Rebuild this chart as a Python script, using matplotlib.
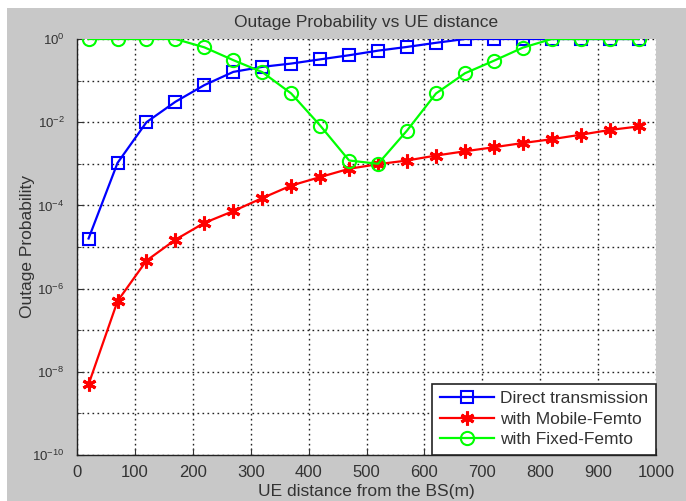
import math

import matplotlib
matplotlib.use("Agg")
import matplotlib.pyplot as plt
import matplotlib.ticker as mticker
from matplotlib.patches import Rectangle

plt.rcParams["font.family"] = ["Liberation Sans", "DejaVu Sans"]
plt.rcParams["mathtext.fontset"] = "custom"
plt.rcParams["mathtext.rm"] = "Liberation Sans"
plt.rcParams["mathtext.it"] = "Liberation Sans"

# UE distance from the BS (m)
distance = [20, 70, 120, 170, 220, 270, 320, 370, 420, 470,
            520, 570, 620, 670, 720, 770, 820, 870, 920, 970]

direct = [1.6e-5, 1.05e-3, 1.0e-2, 0.031, 0.078, 0.162, 0.214, 0.257,
          0.324, 0.407, 0.525, 0.645, 0.81, 1, 1, 1, 1, 1, 1, 1]
mobile_femto = [5e-9, 5e-7, 4.7e-6, 1.5e-5, 3.8e-5, 7.3e-5, 1.5e-4, 3.0e-4,
                4.8e-4, 7.6e-4, 9.8e-4, 1.2e-3, 1.58e-3, 2.0e-3, 2.5e-3,
                3.16e-3, 3.9e-3, 5.0e-3, 6.5e-3, 7.9e-3]
fixed_femto = [1, 1, 1, 1, 0.63, 0.31, 0.16, 0.049, 0.0083, 1.2e-3,
               1.0e-3, 6.3e-3, 0.049, 0.15, 0.30, 0.62, 1, 1, 1, 1]

TEXT = "#333333"
PANEL = "#c8c8c8"
ASTERISK = (6, 2, 0)

fig = plt.figure(figsize=(6.86, 5.01), dpi=100)
fig.patch.set_facecolor("white")
# grey figure panel with a thin white border on the top and left
fig.patches.append(Rectangle((7 / 686, 0), 1, 493 / 501, transform=fig.transFigure,
                             facecolor=PANEL, edgecolor="none", zorder=-10))

ax = fig.add_axes([77 / 686, 46 / 501, 579 / 686, 416 / 501])
ax.set_facecolor("white")

ax.plot(distance, direct, color="#0000ff", lw=1.6, marker="s", ms=8,
        mfc="none", mec="#0000ff", mew=1.5, label="Direct transmission")
ax.plot(distance, mobile_femto, color="#ff0000", lw=1.6, marker=ASTERISK, ms=10,
        mfc="#ff0000", mec="#ff0000", mew=2.2, label="with Mobile-Femto")
ax.plot(distance, fixed_femto, color="#00ff00", lw=1.6, marker="o", ms=9.5,
        mfc="none", mec="#00ff00", mew=1.5, label="with Fixed-Femto")

ax.set_yscale("log")
ax.set_xlim(0, 1000)
ax.set_ylim(1e-10, 1)
ax.set_xticks(range(0, 1001, 100))
ax.yaxis.set_major_locator(mticker.FixedLocator([10.0 ** k for k in range(-10, 1, 2)]))
ax.yaxis.set_minor_locator(mticker.FixedLocator([10.0 ** k for k in range(-9, 0, 2)]))
ax.yaxis.set_minor_formatter(mticker.NullFormatter())
ax.yaxis.set_major_formatter(mticker.FuncFormatter(
    lambda v, p: r"$\mathregular{10^{%d}}$" % round(math.log10(v))))

ax.grid(True, which="both", color="#222222", linestyle=(0, (1.2, 2.4)), lw=1.0)
ax.set_axisbelow(True)
ax.tick_params(which="both", direction="in", colors=TEXT,
               top=False, right=False)
ax.tick_params(which="major", length=5)
ax.tick_params(which="minor", length=3)
ax.tick_params(axis="y", pad=9, labelsize=9.5)
ax.tick_params(axis="x", pad=7, labelsize=12)
for side in ("top", "right"):
    ax.spines[side].set_visible(False)
for side in ("left", "bottom"):
    ax.spines[side].set_color("#222222")
    ax.spines[side].set_linewidth(1.0)

ax.set_title("Outage Probability vs UE distance", fontsize=12.5, color=TEXT, pad=9)
ax.set_xlabel("UE distance from the BS(m)", fontsize=12.5, color=TEXT, labelpad=3)
ax.set_ylabel("Outage Probability", fontsize=12.5, color=TEXT)
ax.yaxis.set_label_coords(-0.073, 0.5)

leg = ax.legend(loc="lower right", borderaxespad=0, fontsize=12.5, fancybox=False,
                framealpha=1, edgecolor="#222222", handlelength=3.1,
                handletextpad=0.35, labelspacing=0.3, borderpad=0.45)
leg.get_frame().set_linewidth(1.2)
for t in leg.get_texts():
    t.set_color(TEXT)

fig.savefig("out.png", dpi=100, facecolor=fig.get_facecolor())
